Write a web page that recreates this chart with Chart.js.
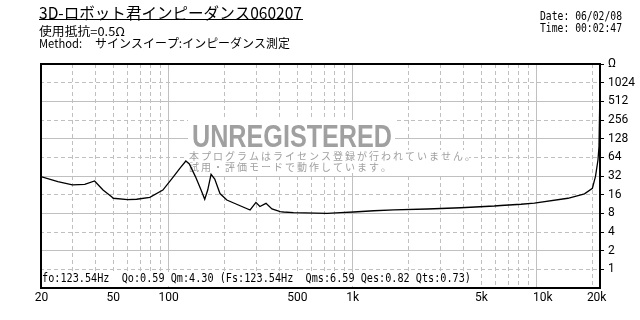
<!DOCTYPE html>
<html>
<head>
<meta charset="utf-8">
<script src="https://cdn.jsdelivr.net/npm/chart.js@4.4.1/dist/chart.umd.min.js"></script>
<style>
  html, body { margin: 0; padding: 0; background: #fff; }
  #wrap { width: 640px; height: 320px; }
</style>
</head>
<body>
<div id="wrap"><canvas id="chart" width="640" height="320"></canvas></div>
<script>
// impedance sweep
const freqHz = [20, 25, 30, 35, 39.6, 44, 49, 50, 60, 67, 79, 93, 106, 115, 124, 129.5, 140, 150, 157, 163, 170, 178,
  190, 207, 234, 277, 298, 313, 338, 364, 404, 421, 477, 726, 858, 1013, 1303, 1674, 2546, 3864, 5870, 6380, 8206,
  9700, 14760, 18160, 20050, 20840, 21500, 21770, 21950, 22050];
const impedanceOhm = [31.5, 26, 23, 23.5, 26.6, 19, 14.8, 14, 13.3, 13.5, 14.5, 19, 31, 42.5, 55.8, 50, 31, 19, 13.5, 19, 34, 28.5,
  16.7, 13.1, 11.2, 9.05, 12, 10.3, 11.6, 9.4, 8.5, 8.4, 8.2, 8.0, 8.2, 8.4, 8.8, 9.1, 9.4, 9.85, 10.5, 10.7, 11.2,
  11.7, 14.0, 16.5, 20.3, 31.5, 58, 95, 395, 110];

const xTicks = [20, 30, 40, 50, 60, 70, 80, 90, 100, 200, 300, 400, 500, 600, 700, 800, 900,
  1000, 2000, 3000, 4000, 5000, 6000, 7000, 8000, 9000, 10000, 20000];
const xLabels = { 20: ' 20', 50: '50', 100: '100', 500: '500', 1000: '1k', 5000: '5k', 10000: '    10k', 20000: '   20k' };
const xSolid = [100, 1000, 10000];

const yTicks = [1, 2, 4, 8, 16, 32, 64, 128, 256, 512, 1024, 2048];
const yLabels = { 2048: 'Ω' };
const ySolid = [2, 8, 32, 128, 512];

const gridColor = '#c0c0c0';
const tickFont = { family: "'Liberation Sans Narrow', Roboto, sans-serif", size: 12 };

function fitText(ctx, text, x, y, w, font, color, baseline) {
  ctx.save();
  ctx.font = font;
  ctx.textBaseline = baseline || 'middle';
  ctx.textAlign = 'left';
  const m = ctx.measureText(text).width;
  ctx.translate(x, y);
  ctx.scale(w / m, 1);
  ctx.fillStyle = color;
  ctx.fillText(text, 0, 0);
  ctx.restore();
}

function spacedText(ctx, text, x, y, pitch, font, color) {
  ctx.save();
  ctx.font = font;
  ctx.textBaseline = 'middle';
  ctx.fillStyle = color;
  [...text].forEach((ch, i) => ctx.fillText(ch, x + i * pitch, y));
  ctx.restore();
}

const decor = {
  id: 'decor',
  beforeDatasetsDraw(chart) {
    const ctx = chart.ctx;
    ctx.save();
    ctx.fillStyle = '#fff';
    ctx.fillRect(188, 120, 207, 30);
    ctx.fillRect(187, 150, 282, 23);
    ctx.fillRect(42, 272, 431, 14);
    ctx.restore();
    fitText(ctx, 'UNREGISTERED', 192, 146.7, 200, "bold 32px 'Liberation Sans', sans-serif", '#a0a0a0', 'alphabetic');
    const jp = "10px 'Noto Sans CJK JP'";
    spacedText(ctx, '本プログラムはライセンス登録が行われていません。', 189, 156, 12, jp, '#a0a0a0');
    spacedText(ctx, '試用・評価モードで動作しています。', 189, 167, 12, jp, '#a0a0a0');
    fitText(ctx, 'fo:123.54Hz  Qo:0.59 Qm:4.30 (Fs:123.54Hz  Qms:6.59 Qes:0.82 Qts:0.73)',
      42, 278.5, 429, "12px 'DejaVu Sans Mono', monospace", '#000');
  },
  afterDraw(chart) {
    const ctx = chart.ctx;
    const a = chart.chartArea;
    ctx.save();
    ctx.strokeStyle = '#000';
    ctx.lineWidth = 2;
    ctx.strokeRect(a.left + 1, a.top, a.right - a.left - 1, a.bottom - a.top);
    ctx.lineWidth = 1;
    ctx.beginPath();
    ctx.moveTo(39, 19.5);
    ctx.lineTo(303, 19.5);
    ctx.stroke();
    ctx.restore();
    const cjk = "'Noto Sans CJK JP', sans-serif";
    fitText(ctx, '3D-ロボット君インピーダンス060207', 39, 13, 263, '16px ' + cjk, '#000');
    fitText(ctx, '使用抵抗=0.5Ω', 39, 31.7, 86, '12px ' + cjk, '#000');
    fitText(ctx, 'Method:', 39, 43, 43, '12px ' + cjk, '#000');
    fitText(ctx, 'サインスイープ:インピーダンス測定', 95, 43, 195, '12px ' + cjk, '#000');
    const mono = "12px 'DejaVu Sans Mono', monospace";
    fitText(ctx, 'Date: 06/02/08', 540, 17, 82, mono, '#000');
    fitText(ctx, 'Time: 00:02:47', 540, 28.7, 82, mono, '#000');
  }
};

new Chart(document.getElementById('chart'), {
  type: 'line',
  data: {
    datasets: [{
      data: freqHz.map((f, i) => ({ x: f, y: impedanceOhm[i] })),
      borderColor: '#000',
      borderWidth: 1.3,
      pointRadius: 0,
      tension: 0,
      fill: false
    }]
  },
  options: {
    responsive: false,
    animation: false,
    layout: { padding: { left: 40, top: 64, right: 0, bottom: 0 } },
    plugins: { legend: { display: false }, tooltip: { enabled: false } },
    scales: {
      x: {
        type: 'logarithmic',
        min: 20,
        max: 22050,
        afterBuildTicks: (s) => { s.ticks = xTicks.map(v => ({ value: v })); },
        afterFit: (s) => { s.height = 32; },
        grid: { color: gridColor, drawTicks: false },
        border: { display: false, dash: (c) => (c.tick && xSolid.includes(c.tick.value)) ? [] : [4, 3] },
        ticks: {
          autoSkip: false, maxRotation: 0, minRotation: 0, padding: 3,
          color: '#000', font: tickFont,
          callback: (v) => xLabels[v] || ''
        }
      },
      y: {
        type: 'logarithmic',
        position: 'right',
        min: 0.5,
        max: 2048,
        afterBuildTicks: (s) => { s.ticks = yTicks.map(v => ({ value: v })); },
        afterFit: (s) => { s.width = 40; },
        grid: { color: gridColor, tickColor: '#000', tickLength: 4, drawTicks: true },
        border: { display: false, dash: (c) => (c.tick && ySolid.includes(c.tick.value)) ? [] : [4, 3] },
        ticks: {
          autoSkip: false, padding: 4, color: '#000', font: tickFont,
          callback: (v) => yLabels[v] || String(v)
        }
      }
    }
  },
  plugins: [decor]
});
</script>
</body>
</html>
